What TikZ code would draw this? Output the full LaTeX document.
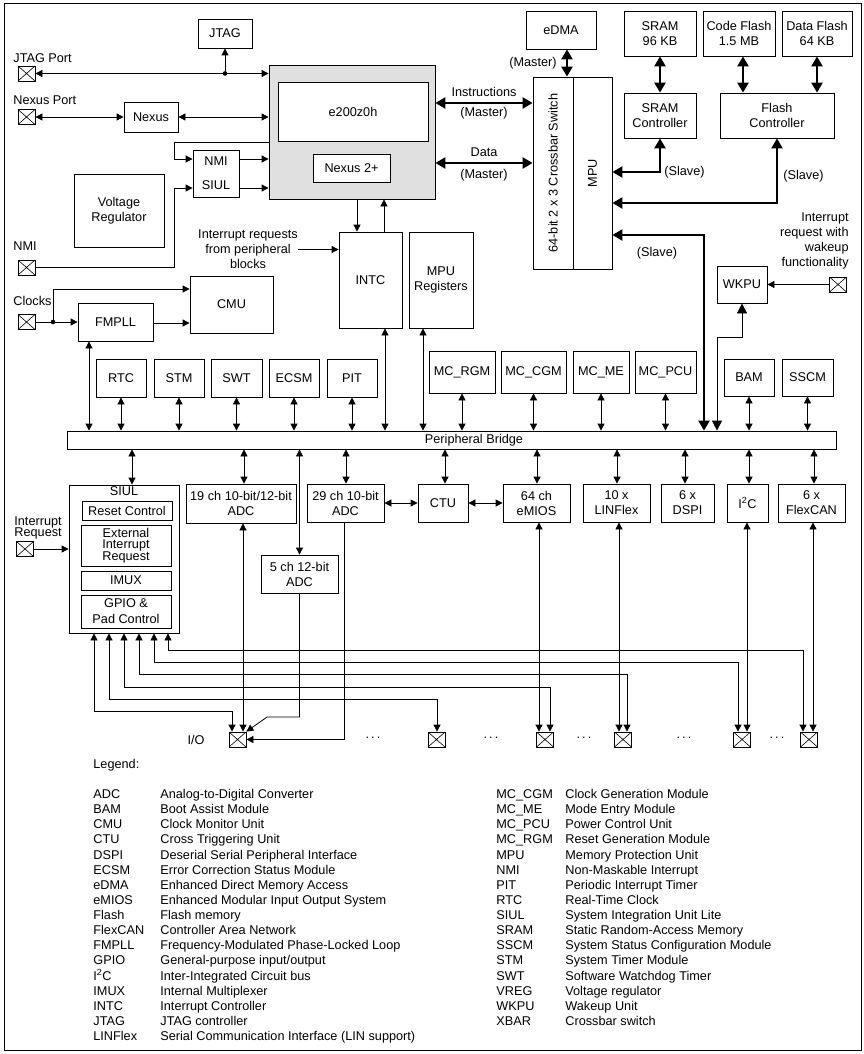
\documentclass[tikz,border=0pt]{standalone}
\usepackage{fontspec}
\setmainfont{Liberation Sans}
\usetikzlibrary{arrows.meta}
\begin{document}
\begin{tikzpicture}[x=1pt,y=-1pt,line width=0.8pt,
  >={Triangle[length=7pt,width=7pt]},
  box/.style={draw,align=center},
  coreblk/.style={draw,fill=black!12},
  iopin/.style={draw,minimum width=17pt,minimum height=15pt,
    path picture={\draw[line width=0.6pt] (path picture bounding box.south west) -- (path picture bounding box.north east)
      (path picture bounding box.north west) -- (path picture bounding box.south east);}},
  fat/.style={line width=2.4pt,{Triangle[length=10pt,width=11pt]}-{Triangle[length=10pt,width=11pt]}},
  wkarrow/.style={{Triangle[length=10pt,width=10pt]}-{Triangle[length=10pt,width=10pt]}},
  tight/.style={font=\fontsize{12.7}{11.5}\selectfont}]
\tikzstyle{every node}+=[inner sep=0pt,font=\fontsize{12.7}{15}\selectfont]
\useasboundingbox (0,0) rectangle (864,1054);
\draw (4,3) rectangle (861,1050);
\node[box,minimum width=54pt,minimum height=29pt] (jtag) at (225,33.5) {JTAG};
\node[iopin] (jtagport) at (26.5,73.5) {};
\node[anchor=base west] at (13,62.5) {JTAG Port};
\node[iopin] (nexusport) at (26.5,117) {};
\node[anchor=base west] at (13,105) {Nexus Port};
\node[box,minimum width=54pt,minimum height=30pt] (nexus) at (151,117) {Nexus};
\node[coreblk,minimum width=166pt,minimum height=134pt] (core) at (352,132) {};
\node[box,fill=white,minimum width=150pt,minimum height=59pt] (e200) at (353,111.5) {e200z0h};
\node[box,fill=white,minimum width=77pt,minimum height=28pt] (nexus2) at (351.5,168) {Nexus 2+};
\node[box,minimum width=46pt,minimum height=47pt] (nmisiul) at (216,173.5) {NMI\\[9pt]SIUL};
\node[box,minimum width=90pt,minimum height=73pt] (vreg) at (119,210.5) {Voltage\\Regulator};
\node[iopin] (nmipin) at (26.5,267.5) {};
\node[anchor=base west] at (13,250) {NMI};
\node[box,minimum width=63pt,minimum height=96pt] (intc) at (370.5,280) {INTC};
\node[box,minimum width=64pt,minimum height=96pt] (mpureg) at (441,280) {MPU\\Registers};
\node[align=center] (irqtxt) at (248,249.5) {Interrupt requests\\from peripheral\\blocks};
\node[iopin] (clkpin) at (26.5,322) {};
\node[anchor=base west] at (13,305.5) {Clocks};
\node[box,minimum width=75pt,minimum height=38pt] (fmpll) at (115.5,322) {FMPLL};
\node[box,minimum width=83pt,minimum height=57pt] (cmu) at (231.5,304.5) {CMU};
\coordinate (clkdot) at (53,322);
\draw[<->] (jtagport.east) -- (core.west |- jtagport.east);
\fill (jtag.south |- jtagport.east) circle (2.3pt);
\draw[->] (jtag.south |- jtagport.east) -- (jtag.south);
\draw[<->] (nexusport.east) -- (nexus.west);
\draw[<->] (nexus.east) -- (core.west |- nexus.east);
\draw[->] (core.west |- 0,142) -- (174,142) |- (nmisiul.west |- 0,159);
\draw[->] (nmipin.east) -| (174,188) -- (nmisiul.west |- 0,188);
\draw[->] (nmisiul.east |- 0,159) -- (core.west |- 0,159);
\draw[->] (nmisiul.east |- 0,188) -- (core.west |- 0,188);
\draw[->] (irqtxt.east) -- (intc.west |- irqtxt.east);
\draw[->] (core.south -| 357,0) -- (intc.north -| 357,0);
\draw[->] (intc.north -| 384,0) -- (core.south -| 384,0);
\draw[->] (clkpin.east) -- (fmpll.west);
\fill (clkdot) circle (2.3pt);
\draw[->] (clkdot) |- (cmu.west |- 0,289);
\draw[->] (fmpll.east |- 0,323) -- (cmu.west |- 0,323);
\node[box,minimum width=70pt,minimum height=38pt] (edma) at (561,30) {eDMA};
\node[box,minimum width=40pt,minimum height=192pt] (xbar) at (553,173) {};
\node[box,minimum width=39pt,minimum height=192pt] (mpu) at (592.5,173) {};
\node[rotate=90] at (xbar) {64-bit 2 x 3 Crossbar Switch};
\node[rotate=90] at (mpu) {MPU};
\node[box,minimum width=72pt,minimum height=45pt] (sram) at (660,33.5) {SRAM\\96 KB};
\node[box,minimum width=72pt,minimum height=45pt] (cflash) at (739,33.5) {Code Flash\\1.5 MB};
\node[box,minimum width=70pt,minimum height=45pt] (dflash) at (817,33.5) {Data Flash\\64 KB};
\node[box,minimum width=72pt,minimum height=45pt] (sramc) at (660,115.5) {SRAM\\Controller};
\node[box,minimum width=114pt,minimum height=45pt] (flashc) at (777,115.5) {Flash\\Controller};
\node[box,minimum width=50pt,minimum height=37pt] (wkpu) at (742,284.5) {WKPU};
\node[iopin] (wkpin) at (838,284.5) {};
\node[anchor=east,align=right] at (849,241) {Interrupt\\request with\\wakeup\\functionality};
\draw[fat] (edma.south -| 567,0) -- (xbar.north -| 567,0);
\node[anchor=east] at (557,63) {(Master)};
\draw[fat] (core.east |- 0,103) -- (xbar.west |- 0,103);
\node at (484,92) {Instructions};
\node at (484,113) {(Master)};
\draw[fat] (core.east |- 0,163) -- (xbar.west |- 0,163);
\node at (484,152) {Data};
\node at (484,175) {(Master)};
\draw[fat] (sram.south) -- (sramc.north);
\draw[fat] (cflash.south -| 743,0) -- (flashc.north -| 743,0);
\draw[fat] (dflash.south) -- (flashc.north -| dflash.south);
\draw[fat] (sramc.south) |- (mpu.east |- 0,172);
\node[anchor=west] at (664,172) {(Slave)};
\draw[fat] (flashc.south) |- (mpu.east |- 0,203);
\node[anchor=west] at (783,176) {(Slave)};
\node[box,minimum width=769pt,minimum height=18pt] (bridge) at (451.5,440) {};
\node at (474,440) {Peripheral Bridge};
\draw[fat] (mpu.east |- 0,235) -| (bridge.north -| 704,0);
\node at (657,253) {(Slave)};
\draw[->] (wkpin.west) -- (wkpu.east);
\draw[wkarrow] (wkpu.south) -- ++(0,34) -| (bridge.north -| 717,0);
\node[box,minimum width=50pt,minimum height=38pt] (rtc) at (121,378) {RTC};
\node[box,minimum width=50pt,minimum height=38pt] (stm) at (179,378) {STM};
\node[box,minimum width=51pt,minimum height=38pt] (swt) at (236.5,378) {SWT};
\node[box,minimum width=50pt,minimum height=38pt] (ecsm) at (294,378) {ECSM};
\node[box,minimum width=50pt,minimum height=38pt] (pit) at (352,378) {PIT};
\node[box,minimum width=66pt,minimum height=42pt] (mcrgm) at (462,372) {MC\_RGM};
\node[box,minimum width=65pt,minimum height=42pt] (mccgm) at (533.5,372) {MC\_CGM};
\node[box,minimum width=56pt,minimum height=42pt] (mcme) at (601,372) {MC\_ME};
\node[box,minimum width=61pt,minimum height=42pt] (mcpcu) at (665.5,372) {MC\_PCU};
\node[box,minimum width=50pt,minimum height=37pt] (bam) at (749,377.5) {BAM};
\node[box,minimum width=51pt,minimum height=37pt] (sscm) at (807.5,377.5) {SSCM};
\foreach \n in {rtc,stm,swt,ecsm,pit,mcrgm,mccgm,mcme,mcpcu,bam,sscm}
  \draw[<->] (\n.south) -- (\n.south |- bridge.north);
\draw[<->] (fmpll.south -| 89,0) -- (bridge.north -| 89,0);
\draw[<->] (intc.south -| 385,0) -- (bridge.north -| 385,0);
\draw[<->] (mpureg.south -| 423,0) -- (bridge.north -| 423,0);
\node[box,minimum width=110pt,minimum height=148pt] (siul) at (124,559) {};
\node[anchor=north] at ([yshift=-2pt]siul.north) {SIUL};
\node[box,minimum width=90pt,minimum height=19pt] (rst) at (127,510.5) {Reset Control};
\node[box,tight,minimum width=90pt,minimum height=41pt] (eirq) at (126,545.5) {External\\Interrupt\\Request};
\node[box,minimum width=90pt,minimum height=19pt] (imux) at (126,580.5) {IMUX};
\node[box,minimum width=90pt,minimum height=33pt,font=\fontsize{12.7}{16}\selectfont] (gpio) at (126,611.5) {GPIO \&\\Pad Control};
\node[iopin] (irqpin) at (25,549) {};
\node[anchor=west,align=left,tight] at (14,528) {Interrupt\\Request};
\draw[->] (irqpin.east) -- (siul.west |- irqpin.east);
\node[box,minimum width=110pt,minimum height=39pt] (adc19) at (241,503.5) {19 ch 10-bit/12-bit\\ADC};
\node[box,minimum width=77pt,minimum height=38pt] (adc29) at (345.5,503) {29 ch 10-bit\\ADC};
\node[box,minimum width=77pt,minimum height=38pt] (adc5) at (299.5,574) {5 ch 12-bit\\ADC};
\node[box,minimum width=50pt,minimum height=38pt] (ctu) at (443,503) {CTU};
\node[box,minimum width=67pt,minimum height=38pt] (emios) at (536.5,503) {64 ch\\eMIOS};
\node[box,minimum width=67pt,minimum height=38pt] (linflex) at (616.5,503) {10 x\\LINFlex};
\node[box,minimum width=53pt,minimum height=38pt] (dspi) at (687.5,503) {6 x\\DSPI};
\node[box,minimum width=41pt,minimum height=38pt] (i2c) at (747.5,503) {I\textsuperscript{2}C};
\node[box,minimum width=67pt,minimum height=38pt] (flexcan) at (811.5,503) {6 x\\FlexCAN};
\foreach \n/\x in {siul/132,adc19/244,adc29/346,ctu/445,emios/537,linflex/617,dspi/685,i2c/749,flexcan/814}
  \draw[<->] (bridge.south -| \x,0) -- (\n.north -| \x,0);
\draw[<->] (bridge.south -| adc5.north) -- (adc5.north);
\draw[<->] (adc29.east |- 0,503) -- (ctu.west |- 0,503);
\draw[<->] (ctu.east |- 0,503) -- (emios.west |- 0,503);
\node[iopin] (io1) at (237.5,739.5) {};
\node[iopin] (io2) at (436.5,739.5) {};
\node[iopin] (io3) at (545,739.5) {};
\node[iopin] (io4) at (623,739.5) {};
\node[iopin] (io5) at (742,739.5) {};
\node[iopin] (io6) at (809,739.5) {};
\node at (196,740) {I/O};
\foreach \x in {373,491,584,684,777}
  \node at (\x,738) {.\,.\,.};
\foreach \x/\y/\p/\px in {94/711/io1/232,109/699/io2/437,124/687/io3/550,139/674/io4/627,154/662/io5/738,168/650/io6/803}
  \draw[<->] (siul.south -| \x,0) |- (\px,\y) -- (\p.north -| \px,0);
\foreach \n/\x/\p in {adc19/243/io1,emios/539/io3,linflex/619/io4,i2c/747/io5,flexcan/813/io6}
  \draw[<->] (\n.south -| \x,0) -- (\p.north -| \x,0);
\draw[->] (adc5.south) |- (267,717) -- (io1.north east);
\draw[->] (adc29.south -| 344,0) |- (io1.east);
\node[anchor=base west] at (93,768) {Legend:};
\foreach \a/\d [count=\i from 0] in {ADC/Analog-to-Digital Converter,BAM/Boot Assist Module,CMU/Clock Monitor Unit,CTU/Cross Triggering Unit,DSPI/Deserial Serial Peripheral Interface,ECSM/Error Correction Status Module,eDMA/Enhanced Direct Memory Access,eMIOS/Enhanced Modular Input Output System,Flash/Flash memory,FlexCAN/Controller Area Network,FMPLL/Frequency-Modulated Phase-Locked Loop,GPIO/{General-purpose input/output},I\textsuperscript{2}C/Inter-Integrated Circuit bus,IMUX/Internal Multiplexer,INTC/Interrupt Controller,JTAG/JTAG controller,LINFlex/Serial Communication Interface (LIN support)}{
  \node[anchor=base west] at (93,{798.5+15.125*\i}) {\a};
  \node[anchor=base west] at (160,{798.5+15.125*\i}) {\d};
}
\foreach \a/\d [count=\i from 0] in {MC\_CGM/Clock Generation Module,MC\_ME/Mode Entry Module,MC\_PCU/Power Control Unit,MC\_RGM/Reset Generation Module,MPU/Memory Protection Unit,NMI/Non-Maskable Interrupt,PIT/Periodic Interrupt Timer,RTC/Real-Time Clock,SIUL/System Integration Unit Lite,SRAM/Static Random-Access Memory,SSCM/System Status Configuration Module,STM/System Timer Module,SWT/Software Watchdog Timer,VREG/Voltage regulator,WKPU/Wakeup Unit,XBAR/Crossbar switch}{
  \node[anchor=base west] at (496,{798.5+15.125*\i}) {\a};
  \node[anchor=base west] at (565,{798.5+15.125*\i}) {\d};
}
\end{tikzpicture}
\end{document}
